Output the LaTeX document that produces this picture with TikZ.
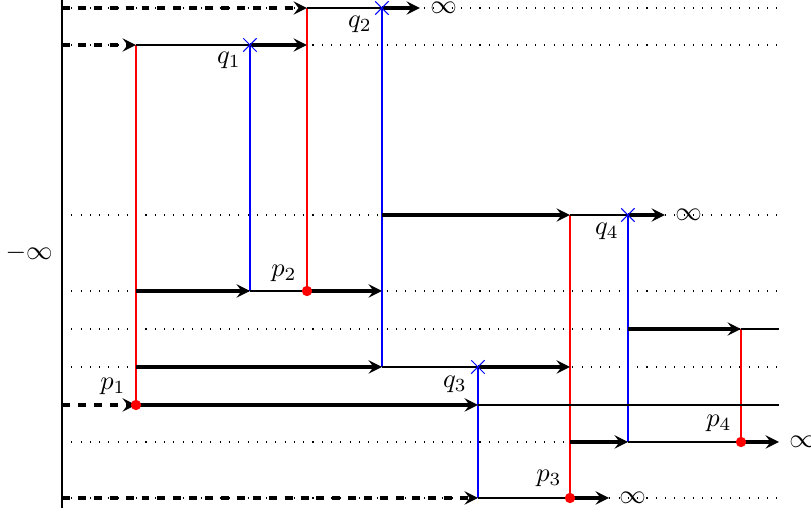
\documentclass[tikz,border=0pt]{standalone}
\usetikzlibrary{shapes.misc}
\tikzset{
	mui/.style={->,very thick},
	mo/.style={->,very thick,dashed},
	vach/.style={dash pattern=on 0.4pt off 3.1pt},
	nhan/.style={cross out,draw=blue,minimum size=4.6pt,inner sep=0pt},
	diem/.style={circle,fill=red,inner sep=0pt,minimum size=3.9pt}
}
\begin{document}
\begin{tikzpicture}[>=stealth,x=0.01326cm,y=-0.01326cm]
	\useasboundingbox (0,0) rectangle (811,515);
	%Truc
	\draw (62,0)--(62,508);
	\node[left] (minf) at (62,253) {$-\infty$};
	%Duong cham
	\foreach \y in {8,45,215,291,329,367,442,498}
		\draw[vach] (62,\y)--(779,\y);
	%Doan doc
	\draw[red] (136,45)--(136,405);
	\draw[blue] (250,45)--(250,291);
	\draw[red] (307,8)--(307,291);
	\draw[blue] (382,8)--(382,367);
	\draw[blue] (478,367)--(478,498);
	\draw[red] (570,215)--(570,498);
	\draw[blue] (628,215)--(628,442);
	\draw[red] (741,329)--(741,442);
	%Duong 1
	\draw[mo] (62,8)--(307,8);
	\draw (307,8)--(382,8);
	\draw[mui] (382,8)--(420,8) node[right] (vc1) {$\infty$};
	%Duong 2
	\draw[mo] (62,45)--(136,45);
	\draw (136,45)--(250,45);
	\draw[mui] (250,45)--(307,45);
	%Duong 3
	\draw[mui] (382,215)--(570,215);
	\draw (570,215)--(628,215);
	\draw[mui] (628,215)--(665,215) node[right] (vc2) {$\infty$};
	%Duong 4
	\draw[mui] (136,291)--(250,291);
	\draw (250,291)--(307,291);
	\draw[mui] (307,291)--(382,291);
	%Duong 5
	\draw[mui] (628,329)--(741,329);
	\draw (741,329)--(779,329);
	%Duong 6
	\draw[mui] (136,367)--(382,367);
	\draw (382,367)--(478,367);
	\draw[mui] (478,367)--(570,367);
	%Duong 7
	\draw[mo] (62,405)--(136,405);
	\draw[mui] (136,405)--(478,405);
	\draw (478,405)--(779,405);
	%Duong 8
	\draw[mui] (570,442)--(628,442);
	\draw (628,442)--(741,442);
	\draw[mui] (741,442)--(779,442) node[right] (vc3) {$\infty$};
	%Duong 9
	\draw[mo] (62,498)--(478,498);
	\draw (478,498)--(570,498);
	\draw[mui] (570,498)--(609,498) node[right] (vc4) {$\infty$};
	%Diem q
	\node[nhan] (x1) at (250,45) {};
	\node[nhan] (x2) at (382,8) {};
	\node[nhan] (x3) at (478,367) {};
	\node[nhan] (x4) at (628,215) {};
	\node (q1) at (229,60) {$q_1$};
	\node (q2) at (360,24) {$q_2$};
	\node (q3) at (455,384) {$q_3$};
	\node (q4) at (607,231) {$q_4$};
	%Diem p
	\node[diem] (d1) at (136,405) {};
	\node[diem] (d2) at (307,291) {};
	\node[diem] (d3) at (570,498) {};
	\node[diem] (d4) at (741,442) {};
	\node (p1) at (113,386) {$p_1$};
	\node (p2) at (284,273) {$p_2$};
	\node (p3) at (549,478) {$p_3$};
	\node (p4) at (719,423) {$p_4$};
\end{tikzpicture}
\end{document}
